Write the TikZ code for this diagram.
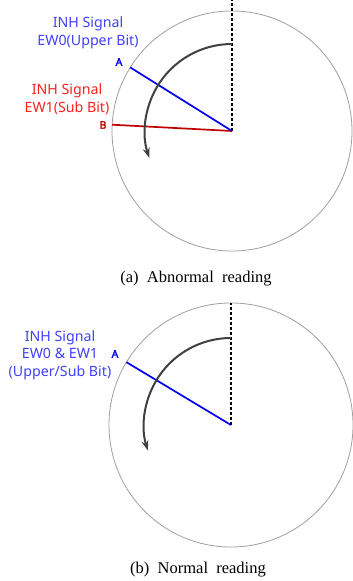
\documentclass[tikz,border=0pt]{standalone}
\usepackage{fontspec}
\setmainfont{Liberation Serif}
\newfontfamily\etiq{Noto Sans}
\newfontfamily\letra[FakeBold=2.5]{Noto Sans}
\usepackage{xcolor}
\definecolor{senalAzul}{HTML}{0000F0}
\definecolor{textoAzul}{HTML}{4040FF}
\definecolor{senalRoja}{HTML}{C00000}
\definecolor{textoRojo}{HTML}{FF2020}
\definecolor{giroGris}{HTML}{404040}
\usetikzlibrary{arrows.meta}

\begin{document}
\begin{tikzpicture}[x=1pt, y=1pt,
      disco/.style={draw=gray!75, line width=0.8pt},
      radio/.style={line width=1.7pt},
      guia/.style={line width=1.4pt, dash pattern=on 3pt off 2pt},
      giro/.style={-{Stealth[length=10pt,width=7pt]}, line width=2pt, draw=giroGris},
      etiqueta/.style={font=\etiq\fontsize{14.2}{17.5}\selectfont, align=center, inner sep=0pt},
      punto/.style={font=\letra\fontsize{10.5}{12}\selectfont, inner sep=0pt},
      pie/.style={font=\fontsize{16.5}{19}\selectfont, inner sep=0pt}
    ]
    \useasboundingbox (0,0) rectangle (353,581);

    % (a) lectura anormal
    \coordinate (centroA) at (232,450);
    \coordinate (norteA) at (232,581);
    \coordinate (bitA) at ([shift={(148:120)}]centroA);
    \coordinate (bitB) at ([shift={(177:120)}]centroA);
    \draw[disco] (centroA) circle (120);
    \draw[guia] (centroA) -- (norteA);
    \draw[radio, senalRoja] (centroA) -- (bitB);
    \draw[radio, senalAzul] (centroA) -- (bitA);
    \draw[giro] ([shift={(90:87)}]centroA) arc[start angle=90, end angle=198, radius=87];
    \node[etiqueta, textoAzul] (senalSup) at (88,548) {INH Signal\\EW0(Upper Bit)};
    \node[punto, senalAzul] (letraA) at (119,519) {A};
    \node[etiqueta, textoRojo] (senalSub) at (67,482) {INH Signal\\EW1(Sub Bit)};
    \node[punto, senalRoja] (letraB) at (103,456) {B};
    \node[pie] (pieA) at (196,302) {(a)\ \ Abnormal\ \ reading};

    % (b) lectura normal
    \coordinate (centroB) at (231,156);
    \coordinate (norteB) at (231,278);
    \coordinate (bitAB) at ([shift={(149:122)}]centroB);
    \draw[disco] (centroB) circle (122);
    \draw[guia] (centroB) -- (norteB);
    \draw[radio, senalAzul] (centroB) -- (bitAB);
    \draw[giro] ([shift={(90:87)}]centroB) arc[start angle=90, end angle=197, radius=87];
    \node[etiqueta, textoAzul] (senalAmbas) at (60,226) {INH Signal\\EW0 \& EW1\\(Upper/Sub Bit)};
    \node[punto, senalAzul] (letraAB) at (115,227) {A};
    \node[pie] (pieB) at (198,11) {(b)\ \ Normal\ \ reading};
  \end{tikzpicture}
\end{document}
